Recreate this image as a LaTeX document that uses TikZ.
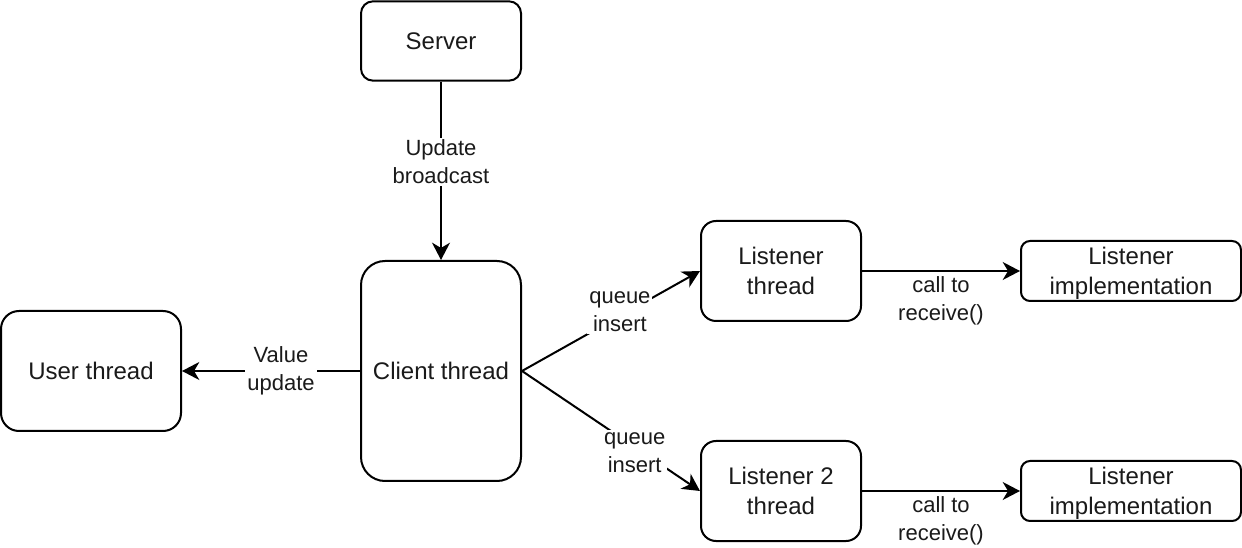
\documentclass[tikz,border=0pt]{standalone}
\usepackage{fontspec}
\setmainfont{Liberation Sans}
\usetikzlibrary{arrows.meta}
\definecolor{txt}{RGB}{26,26,26}
\begin{document}
\begin{tikzpicture}[x=0.75pt,y=-0.75pt,
  box/.style={draw=black, line width=1.5pt, rounded corners=#1, align=center,
    font=\fontsize{18}{22.5}\selectfont, text=txt, inner sep=0pt, fill=white},
  lbl/.style={font=\fontsize{16.5}{21}\selectfont, text=txt, fill=white,
    align=center, inner sep=1.5pt},
  arr/.style={line width=1.5pt, -{Stealth[length=13pt,width=13.5pt,inset=4pt]}}
]
\useasboundingbox (0,0) rectangle (1242,548);

\node[box=9pt, minimum width=120pt, minimum height=59.5pt] (server) at (441,41) {Server};
\node[box=18pt, minimum width=120pt, minimum height=165pt] (client) at (441,371) {Client thread};
\node[box=13.5pt, minimum width=135pt, minimum height=90pt] (user) at (91,371) {User thread};
\node[box=11.25pt, minimum width=120pt, minimum height=75pt] (lis1) at (781,271) {Listener\\thread};
\node[box=6.75pt, minimum width=165pt, minimum height=45pt, text depth=0pt] (imp1) at (1131,271) {Listener\\implementation};
\node[box=11.25pt, minimum width=120pt, minimum height=75pt] (lis2) at (781,491) {Listener 2\\thread};
\node[box=6.75pt, minimum width=165pt, minimum height=45pt, text depth=0pt] (imp2) at (1131,491) {Listener\\implementation};

\draw[arr] (server.south) -- node[lbl, pos=0.45] {Update\\broadcast} (client.north);
\draw[arr] (client.west) -- node[lbl, pos=0.444] {Value\\update} (user.east);
\draw[arr] (client.east) -- node[lbl, pos=0.55, yshift=3pt] {queue\\insert} (lis1.west);
\draw[arr] (client.east) -- node[lbl, pos=0.633, yshift=-4pt] {queue\\insert} (lis2.west);
\draw[arr] (lis1.east) -- node[lbl, pos=0.5, yshift=-22.5pt] {call to\\receive()} (imp1.west);
\draw[arr] (lis2.east) -- node[lbl, pos=0.5, yshift=-22.5pt] {call to\\receive()} (imp2.west);
\end{tikzpicture}
\end{document}
